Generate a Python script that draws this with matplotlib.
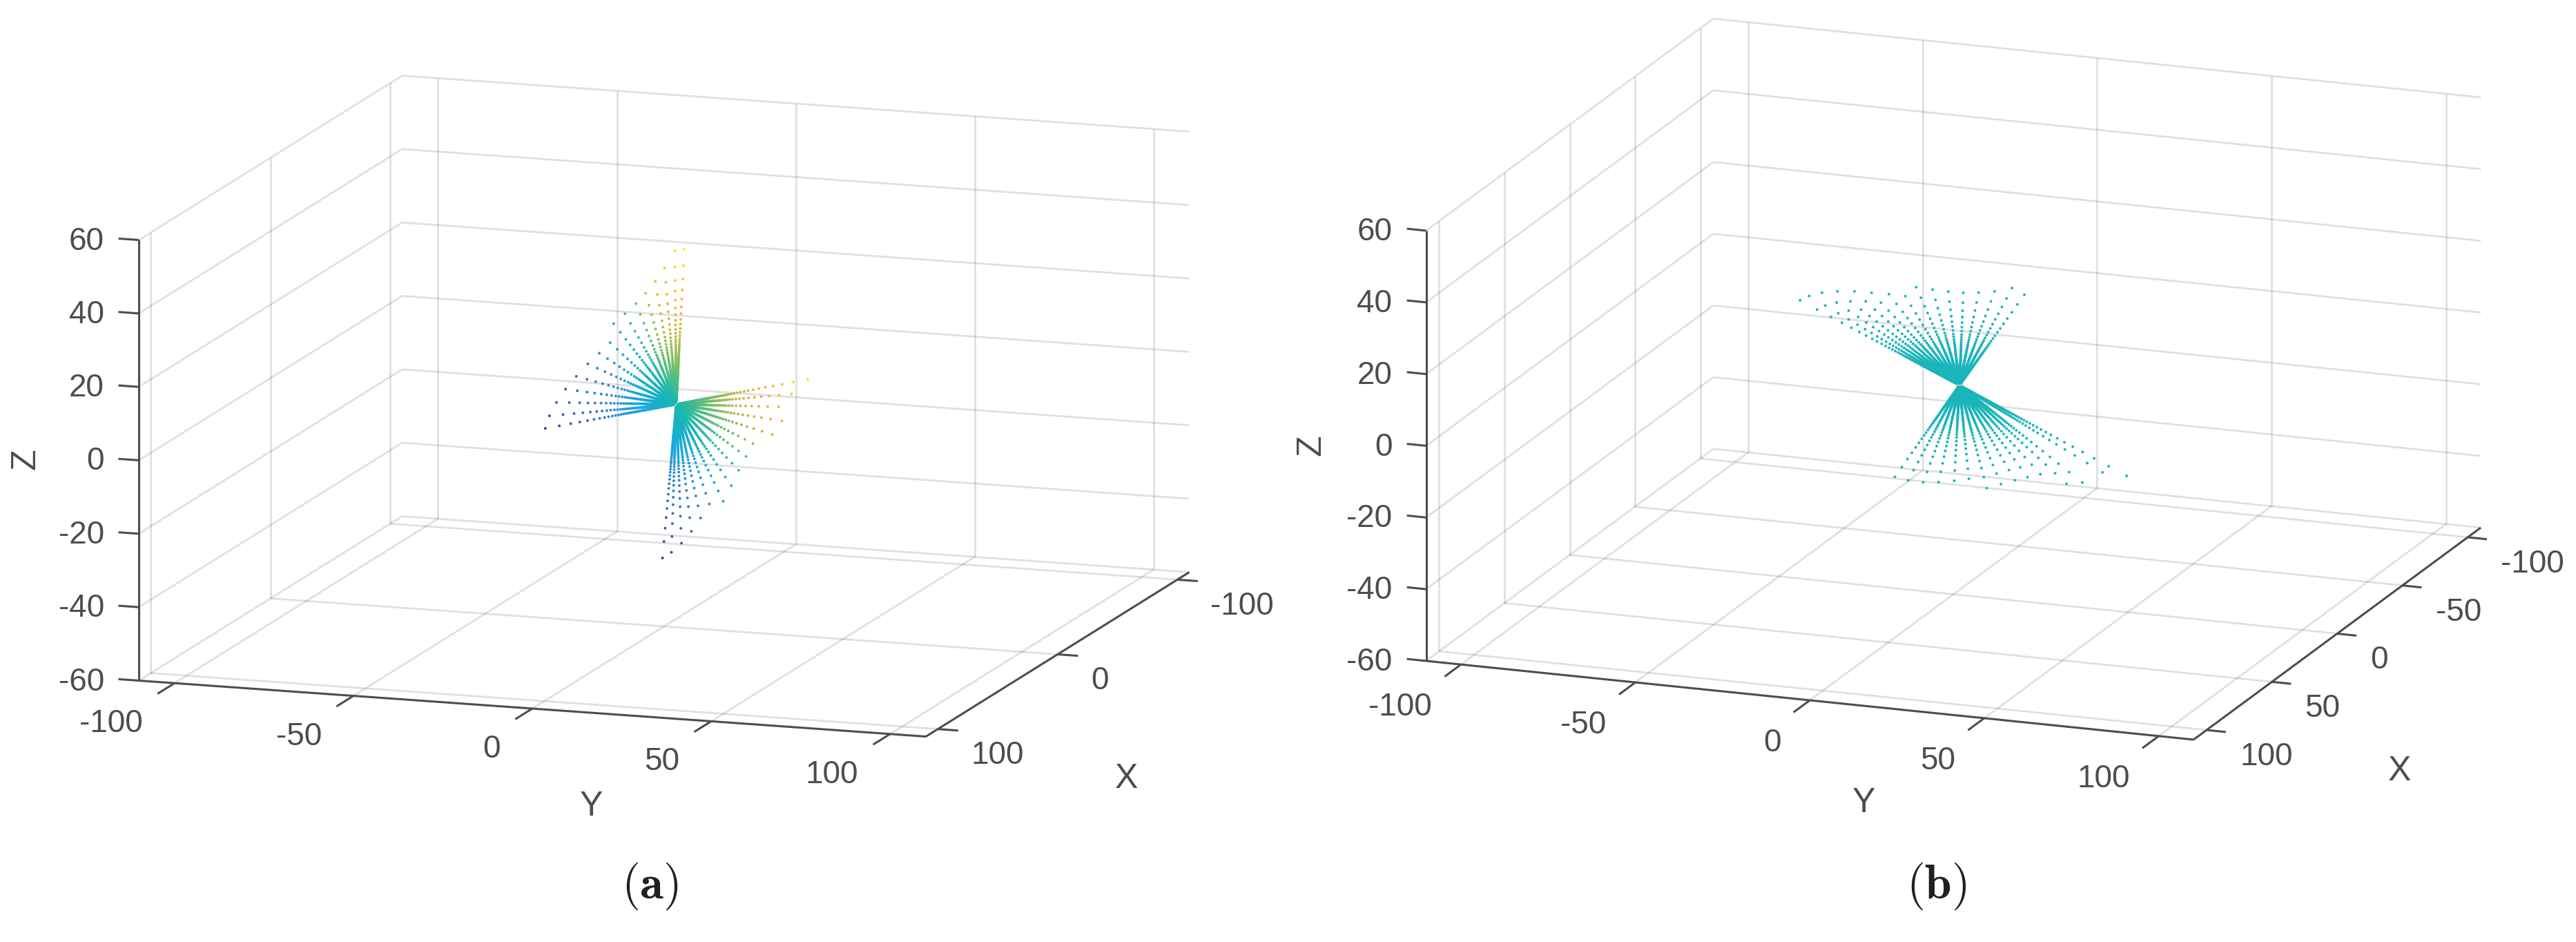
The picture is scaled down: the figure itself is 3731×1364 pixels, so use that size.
import numpy as np
import matplotlib
matplotlib.use("Agg")
import matplotlib.pyplot as plt
from matplotlib.colors import LinearSegmentedColormap

plt.rcParams['font.family'] = ['Liberation Sans', 'DejaVu Sans']
plt.rcParams['mathtext.fontset'] = 'cm'

W, H = 3731, 1364

A_X_TICKS = [-100, 0, 100]
B_X_TICKS = [-100, -50, 0, 50, 100]
Y_TICKS = [-100, -50, 0, 50, 100]
Z_TICKS = [-60, -40, -20, 0, 20, 40, 60]
XY_LIM = 110
Z_LIM = 60

# The clouds are too dense to read dot by dot: the outer tip of each ray and
# the spacing of the dots along a ray were read off the picture, and each dot
# is tip * fraction. Depth along the view is not readable from one projection.
RAY_FRACTION = [1, .893, .806, .737, .678, .628, .585, .547, .517, .488, .463, .441,
                .421, .403, .386, .371, .357, .344, .332, .321, .310, .300, .291, .282,
                .274, .266, .259, .252, .245, .239, .233, .227, .222, .217, .212, .207,
                .202, .198, .193, .189, .185, .18, .175, .17, .165, .16, .155, .15,
                .145, .14, .135, .13, .125, .12, .115, .11, .105, .10, .095, .09,
                .085, .08, .075, .07, .065, .06, .055, .05, .045, .04, .035, .03,
                .025, .02]

# panel (a), colour follows z
A_CENTER = [-3.2, 2.35, 0]
A_TIP_X = [-86.9, -86.5, -92.6, -101.4, -109.8, -107.2, -107.8, -102.8, -99.5, -91.3,
           -77.8, -62.0, -55.9, -57.1, -52.0, -54.8,
           86.0, 89.0, 84.3, 100.9, 94.3, 88.3, 88.5, 87.2, 79.9, 72.8,
           56.1, 60.4, 66.6, 65.9, 67.1, 64.1]
A_TIP_Y = [-65.7, -64.4, -64.5, -64.9, -64.7, -60.6, -57.6, -52.9, -50.8, -44.9,
           -37.3, -29.3, -24.6, -22.4, -17.8, -16.1,
           65.5, 62.0, 56.8, 63.3, 58.4, 51.0, 49.1, 46.6, 42.1, 37.5,
           28.0, 27.0, 26.5, 23.5, 21.1, 17.6]
A_TIP_Z = [-28.8, -25.2, -22.8, -21.0, -19.2, -15.0, -12.0, -7.8, -1.8, 3.0,
           9.0, 15.6, 20.4, 24.0, 30.0, 30.0,
           28.8, 25.2, 20.4, 20.4, 15.0, 10.8, 7.2, 3.0, -3.0, -9.0,
           -13.8, -16.8, -19.2, -22.8, -25.2, -27.6]

# panel (b), one colour except for the specks at the waist
B_CENTER = [5.0, 3.6, 0]
B_TIP_X = [0] * 31
B_TIP_Y = [-45.7, -43.1, -39.4, -35.0, -30.1, -25.2, -20.2, -15.5, -12.4, -7.7, -3.2,
           1.1, 5.5, 10.1, 15.1, 18.6,
           47.9, 41.0, 35.2, 30.7, 23.2, 19.5, 15.9, 11.9, 7.8, 2.7, -1.5, -6.0,
           -10.4, -14.7, -18.5]
B_TIP_Z = [19.1, 20.6, 21.9, 22.7, 23.2, 23.3, 23.4, 23.3, 26.1, 25.9, 25.8,
           25.9, 26.4, 27.2, 28.6, 27.1,
           -20.5, -20.2, -23.6, -24.4, -22.5, -23.7, -24.9, -26.4, -27.9, -25.8,
           -26.8, -27.6, -28.1, -28.0, -27.4]
B_COLOR = 0.47
B_WAIST_Y = [-1.2, -0.9, -0.7, -0.5, -0.3, -0.2, 0.0, 0.2, 0.3, 0.5, 0.6, 0.9, 1.1, -0.4, 0.4]
B_WAIST_Z = [0.5, -0.3, 0.9, 0.1, -0.8, 0.6, 1.2, -0.2, 0.4, -0.6, 0.9, 0.2, -0.4, -1.1, -1.3]
B_WAIST_COLOR = 0.87

# colours as they look in the picture, close to MATLAB parula
CMAP_STOPS = [(0.0, '#3b2f96'), (0.15, '#3f5fb8'), (0.28, '#2f88d0'), (0.38, '#14aadf'),
              (0.50, '#1cb8ae'), (0.62, '#6ebf6b'), (0.72, '#c4b83a'), (0.85, '#fbb53a'),
              (1.0, '#f9f00f')]
cmap = LinearSegmentedColormap.from_list('parula_like', CMAP_STOPS)

AXIS_COLOR = '#4d4d4d'
GRID_COLOR = (0.15, 0.15, 0.15)
FONT_SIZE = 33


def fix_projection(ax, p0, vx, vy, vz):
    """orthographic view pinned to the pixel corners of the MATLAB box"""
    ax.set_proj_type('ortho')
    # data -> image pixels (y down)
    a = np.array([
        [-vx[0] / (2 * XY_LIM), vy[0] / (2 * XY_LIM), vz[0] / (2 * Z_LIM)],
        [-vx[1] / (2 * XY_LIM), vy[1] / (2 * XY_LIM), vz[1] / (2 * Z_LIM)],
    ])
    corner = np.array([XY_LIM, -XY_LIM, -Z_LIM])
    b = np.array(p0) - a @ corner

    def get_proj():
        # image pixels (y up) -> what transData expects
        a_up = np.vstack([a[0], -a[1]])
        b_up = np.array([b[0], H - b[1]])
        inv = ax.transData.inverted().get_affine().get_matrix()
        a_ndc = inv[:2, :2] @ a_up
        b_ndc = inv[:2, :2] @ b_up + inv[:2, 2]
        depth = np.cross(a_ndc[0], a_ndc[1])
        depth = depth / np.linalg.norm(depth) * 0.001
        m = np.eye(4)
        m[0, :3], m[0, 3] = a_ndc[0], b_ndc[0]
        m[1, :3], m[1, 3] = a_ndc[1], b_ndc[1]
        m[2, :3], m[2, 3] = depth, 0
        return m

    ax.get_proj = get_proj
    return lambda x, y, z: a @ np.array([x, y, z]) + b


def line(ax, xs, ys, zs, **kw):
    ax.plot(xs, ys, zs, clip_on=False, solid_capstyle='butt', **kw)


def draw_box(ax, x_ticks, y_tick_len, x_tick_len):
    L, Z = XY_LIM, Z_LIM
    grid = dict(color=GRID_COLOR, alpha=0.14, lw=2.0)
    for z in Z_TICKS:
        line(ax, [-L, -L], [-L, L], [z, z], **grid)
        line(ax, [-L, L], [-L, -L], [z, z], **grid)
    for y in Y_TICKS:
        line(ax, [-L, -L], [y, y], [-Z, Z], **grid)
        line(ax, [-L, L], [y, y], [-Z, -Z], **grid)
    for x in x_ticks:
        line(ax, [x, x], [-L, -L], [-Z, Z], **grid)
        line(ax, [x, x], [-L, L], [-Z, -Z], **grid)

    ax_style = dict(color=AXIS_COLOR, lw=2.2)
    line(ax, [L, L], [-L, -L], [-Z, Z], **ax_style)
    line(ax, [L, L], [-L, L], [-Z, -Z], **ax_style)
    line(ax, [-L, L], [L, L], [-Z, -Z], **ax_style)
    for z in Z_TICKS:
        line(ax, [L, L], [-L, -L - y_tick_len], [z, z], **ax_style)
    for y in Y_TICKS:
        line(ax, [L, L + x_tick_len], [y, y], [-Z, -Z], **ax_style)
    for x in x_ticks:
        line(ax, [x, x], [L, L + y_tick_len], [-Z, -Z], **ax_style)


def px_text(fig, px, py, s, size=FONT_SIZE, color=AXIS_COLOR, **kw):
    fig.text(px / W, 1 - py / H, s, fontsize=size, color=color, va='center', **kw)


def draw_labels(fig, to_px, x_ticks, z_off, y_off, x_off, z_pos, y_pos, x_pos):
    L, Z = XY_LIM, Z_LIM
    for z in Z_TICKS:
        p = to_px(L, -L, z)
        px_text(fig, p[0] + z_off, p[1] + 2, str(z), ha='right')
    for y in Y_TICKS:
        p = to_px(L, y, -Z)
        px_text(fig, p[0] + y_off[0], p[1] + y_off[1], str(y), ha='right')
    for x in x_ticks:
        p = to_px(x, L, -Z)
        px_text(fig, p[0] + x_off[0], p[1] + x_off[1], str(x), ha='left')
    px_text(fig, z_pos[0], z_pos[1], 'Z', size=FONT_SIZE + 3, rotation=90, ha='center')
    px_text(fig, y_pos[0], y_pos[1], 'Y', size=FONT_SIZE + 3, ha='center')
    px_text(fig, x_pos[0], x_pos[1], 'X', size=FONT_SIZE + 3, ha='center')


def rays(center, tips):
    return center + np.outer(tips, RAY_FRACTION).ravel()


fig = plt.figure(figsize=(W / 100, H / 100), dpi=100)

# panel (a)
ax_a = fig.add_axes([0, 0, 1, 1], projection='3d')
ax_a.set_axis_off()
ax_a.patch.set_alpha(0)
to_px_a = fix_projection(ax_a, (201, 985.5), (381.6, -238), (1140, 81), (0, -638))
draw_box(ax_a, A_X_TICKS, 5.7, 14.2)
az = rays(A_CENTER[2], A_TIP_Z)
ax_a.scatter(rays(A_CENTER[0], A_TIP_X), rays(A_CENTER[1], A_TIP_Y), az, c=az, cmap=cmap,
             vmin=-30, vmax=30, s=8, marker='o', linewidths=0, depthshade=False, clip_on=False)
draw_labels(fig, to_px_a, A_X_TICKS, -50, (-46, 59), (48, 38.5), (37, 665), (857, 1168), (1632, 1128))

# panel (b)
ax_b = fig.add_axes([0, 0, 1, 1], projection='3d')
ax_b.set_axis_off()
ax_b.patch.set_alpha(0)
to_px_b = fix_projection(ax_b, (2065.5, 957), (416, -307), (1111.6, 114), (0, -623))
draw_box(ax_b, B_X_TICKS, 5.5, 12.5)
bx = rays(B_CENTER[0], B_TIP_X)
ax_b.scatter(bx, rays(B_CENTER[1], B_TIP_Y), rays(B_CENTER[2], B_TIP_Z), c=np.full(bx.shape, B_COLOR),
             cmap=cmap, vmin=0, vmax=1, s=8, marker='o', linewidths=0, depthshade=False, clip_on=False)
ax_b.scatter(np.full(len(B_WAIST_Y), B_CENTER[0]), np.array(B_WAIST_Y) + B_CENTER[1],
             np.array(B_WAIST_Z) + B_CENTER[2], c=np.full(len(B_WAIST_Y), B_WAIST_COLOR),
             cmap=cmap, vmin=0, vmax=1, s=2.5, marker='o', linewidths=0, depthshade=False, clip_on=False)
draw_labels(fig, to_px_b, B_X_TICKS, -49, (-42, 62), (48, 39), (1899, 645), (2700, 1163), (3476, 1117))

px_text(fig, 941, 1283, r'$\mathrm{(}\mathbf{a}\mathrm{)}$', size=50, color='#231f20', ha='center')
px_text(fig, 2805, 1283, r'$\mathrm{(}\mathbf{b}\mathrm{)}$', size=50, color='#231f20', ha='center')

fig.savefig('out.png', dpi=100, facecolor='white')
